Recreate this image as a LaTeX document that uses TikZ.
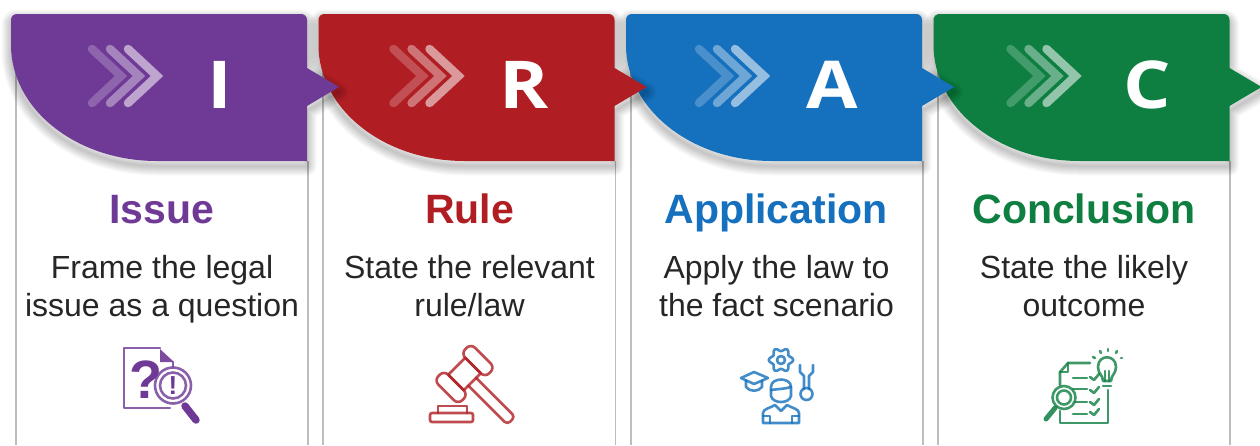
\documentclass[tikz,border=0pt]{standalone}
\usepackage{fontspec}
\setmainfont{Liberation Sans}
\newfontfamily\capfont[FakeStretch=1.13]{Open Sans}
\definecolor{cI}{HTML}{6F3996}
\definecolor{cR}{HTML}{B01E23}
\definecolor{cA}{HTML}{1570BD}
\definecolor{cC}{HTML}{0E7F41}
\definecolor{cardline}{HTML}{BDBDBD}
\tikzset{
  cardedge/.style={draw=cardline,line width=1.5pt},
  lettertext/.style={inner sep=0pt,text=white,font=\capfont\bfseries\fontsize{66}{66}\selectfont},
  titletext/.style={inner sep=0pt,anchor=base,font=\bfseries\fontsize{41}{41}\selectfont},
  bodytext/.style={inner sep=0pt,anchor=base,text=black!85,font=\fontsize{32}{32}\selectfont},
  chev/.style={draw=white,line width=8.5pt,line cap=round,line join=miter},
  icon/.style={line width=2.6pt,line join=round,line cap=round,opacity=.8},
}
\newcommand{\hdrpath}{(11,20) .. controls (11,16.5) and (13.5,14) .. (17,14) -- (301,14) .. controls (304.5,14) and (307,16.5) .. (307,20) -- (307,68) -- (339,87) -- (307,106) -- (307,161) -- (157,161) .. controls (76,161) and (11,109) .. (11,45) -- cycle}
\newcommand{\header}[3]{%
  \begin{scope}[shift={(#1,0)}]
    \foreach \w in {1,3,5,7,9,11,13,15,17,19}{\draw[black,opacity=.022,line width=\w pt,line join=round,yshift=-5pt] \hdrpath;}
    \fill[#2] \hdrpath;
    \begin{scope}[shift={(#3,0)}]
    \draw[chev,opacity=.22] (92,49) -- (121,76) -- (92,103);
    \draw[chev,opacity=.38] (110,49) -- (139,76) -- (110,103);
    \draw[chev,opacity=.55] (128,49) -- (157,76) -- (128,103);
    \end{scope}
  \end{scope}}
\begin{document}
\begin{tikzpicture}[x=1pt,y=-1pt]
\useasboundingbox (0,0) rectangle (1260,445);
\fill[white] (0,0) rectangle (1260,445);
% card edges
\foreach \a in {16,323,631,938}{\draw[cardedge] (\a,70) -- (\a,445);}
\foreach \a in {308,615.5,923,1230}{\draw[cardedge] (\a,161) -- (\a,445);}
% headers, last one first so that each tip lies over the next header
\header{922.5}{cC}{-4}
\header{615}{cA}{-8}
\header{307.5}{cR}{-6}
\header{0}{cI}{0}
% letters
\node[lettertext] (letterI) at (220,85) {I};
\node[lettertext] (letterR) at (524,85) {R};
\node[lettertext] (letterA) at (832,85) {A};
\node[lettertext] (letterC) at (1147,85) {C};
% titles
\node[titletext,text=cI] (titleI) at (162,223) {Issue};
\node[titletext,text=cR] (titleR) at (469.5,223) {Rule};
\node[titletext,text=cA] (titleA) at (776,223) {Application};
\node[titletext,text=cC] (titleC) at (1084,223) {Conclusion};
% body
\node[bodytext] (bodyIa) at (162,278) {Frame the legal};
\node[bodytext] (bodyIb) at (162,316) {issue as a question};
\node[bodytext] (bodyRa) at (469.5,278) {State the relevant};
\node[bodytext] (bodyRb) at (469.5,316) {rule/law};
\node[bodytext] (bodyAa) at (776.5,278) {Apply the law to};
\node[bodytext] (bodyAb) at (776.5,316) {the fact scenario};
\node[bodytext] (bodyCa) at (1084,278) {State the likely};
\node[bodytext] (bodyCb) at (1084,316) {outcome};
% icon: issue
\draw[icon,draw=cI] (160,348) -- (124,348) -- (124,408) -- (170,408);
\draw[icon,draw=cI] (173,362) -- (173,367);
\fill[cI,opacity=.9] (160,349) -- (174,362) -- (160,362) -- cycle;
\node[inner sep=0pt,text=cI,font=\bfseries\fontsize{54}{54}\selectfont] (qmark) at (146,380) {?};
\draw[icon,draw=cI,fill=white] (173,385.5) circle[radius=18];
\draw[icon,draw=cI] (173,385.5) circle[radius=13];
\node[inner sep=0pt,text=cI,font=\bfseries\fontsize{26}{26}\selectfont] (excl) at (173,385.5) {!};
\draw[cI,line width=7.5pt,line cap=round] (185,406) -- (196,420);
% icon: rule
\begin{scope}[shift={(464.5,374)},rotate=-45]
  \draw[icon,draw=cR,rounded corners=6pt] (-17,-26) rectangle (17,-12);
  \draw[icon,draw=cR,rounded corners=6pt] (-17,12) rectangle (17,26);
  \draw[icon,draw=cR] (-11,-12) rectangle (11,12);
  \draw[icon,draw=cR,rounded corners=4pt] (11,-5.5) -- (66,-5.5) -- (66,5.5) -- (11,5.5);
\end{scope}
\draw[icon,draw=cR,rounded corners=2pt] (430,413) rectangle (473,422);
\draw[icon,draw=cR] (438,413) -- (438,406) -- (467,406) -- (467,413);
% icon: application
\draw[icon,draw=cA] plot[domain=0:350,samples=36] ({781+(10.5+1.8*cos(6*\x))*cos(\x)},{360+(10.5+1.8*cos(6*\x))*sin(\x)}) -- cycle;
\draw[icon,draw=cA] (781,360) circle[radius=4];
\draw[icon,draw=cA] (741,378) -- (754,372) -- (768,378) -- (754,384) -- cycle;
\draw[icon,draw=cA] (746,381) -- (746,387) .. controls (750,392) and (758,392) .. (762,387) -- (762,381);
\draw[icon,draw=cA] (800,365) -- (800,372) -- (804,376) -- (804,389);
\draw[icon,draw=cA] (813,365) -- (813,372) -- (809,376) -- (809,389);
\draw[icon,draw=cA] (806.5,394) circle[radius=6];
\draw[icon,draw=cA] (771,387) .. controls (771,377) and (791,377) .. (791,387) -- (791,396) .. controls (789,404) and (773,404) .. (771,396) -- cycle;
\draw[icon,draw=cA] (771,390) .. controls (777,389) and (785,389) .. (791,387);
\draw[icon,draw=cA] (763,423) -- (763,413) .. controls (763,409) and (770,408) .. (775,405) -- (781,411) -- (787,405) .. controls (792,408) and (799,409) .. (799,413) -- (799,423) -- cycle;
\draw[icon,draw=cA] (763,416) -- (770,416) -- (770,423);
\draw[icon,draw=cA] (799,416) -- (792,416) -- (792,423);
% icon: conclusion
\draw[icon,draw=cC] (1060,385) -- (1060,372) -- (1068,363) -- (1090,363);
\draw[icon,draw=cC] (1068,363) -- (1068,372) -- (1060,372);
\draw[icon,draw=cC] (1060,411) -- (1060,423) -- (1108,423) -- (1108,390);
\foreach \y in {378,389,402,414}{\draw[icon,draw=cC] (1073,\y) -- (1087,\y);}
\foreach \y in {377,390,402,412}{\draw[icon,draw=cC] (1090,\y) -- (1094,\y+3) -- (1099,\y-3);}
\draw[icon,draw=cC,fill=white] (1064,397.5) circle[radius=11.5];
\draw[icon,draw=cC] (1064,397.5) circle[radius=7];
\draw[cC,line width=5pt,line cap=round,opacity=.85] (1055,408) -- (1046,419);
\draw[icon,draw=cC] (1103,381) .. controls (1103,375) and (1098,374) .. (1098,367) .. controls (1098,354) and (1116,354) .. (1116,367) .. controls (1116,374) and (1111,375) .. (1111,381) -- cycle;
\draw[icon,draw=cC] (1103,386) -- (1111,386);
\draw[icon,draw=cC] (1105,381) -- (1105,371);
\draw[icon,draw=cC] (1109,381) -- (1109,371);
\foreach \a/\b/\c/\d in {1108/349/1108/351,1100/351/1101/353,1117/351/1116/353,1093/357/1095/358,1121/358/1122/358}{\draw[icon,draw=cC] (\a,\b) -- (\c,\d);}
\end{tikzpicture}
\end{document}
